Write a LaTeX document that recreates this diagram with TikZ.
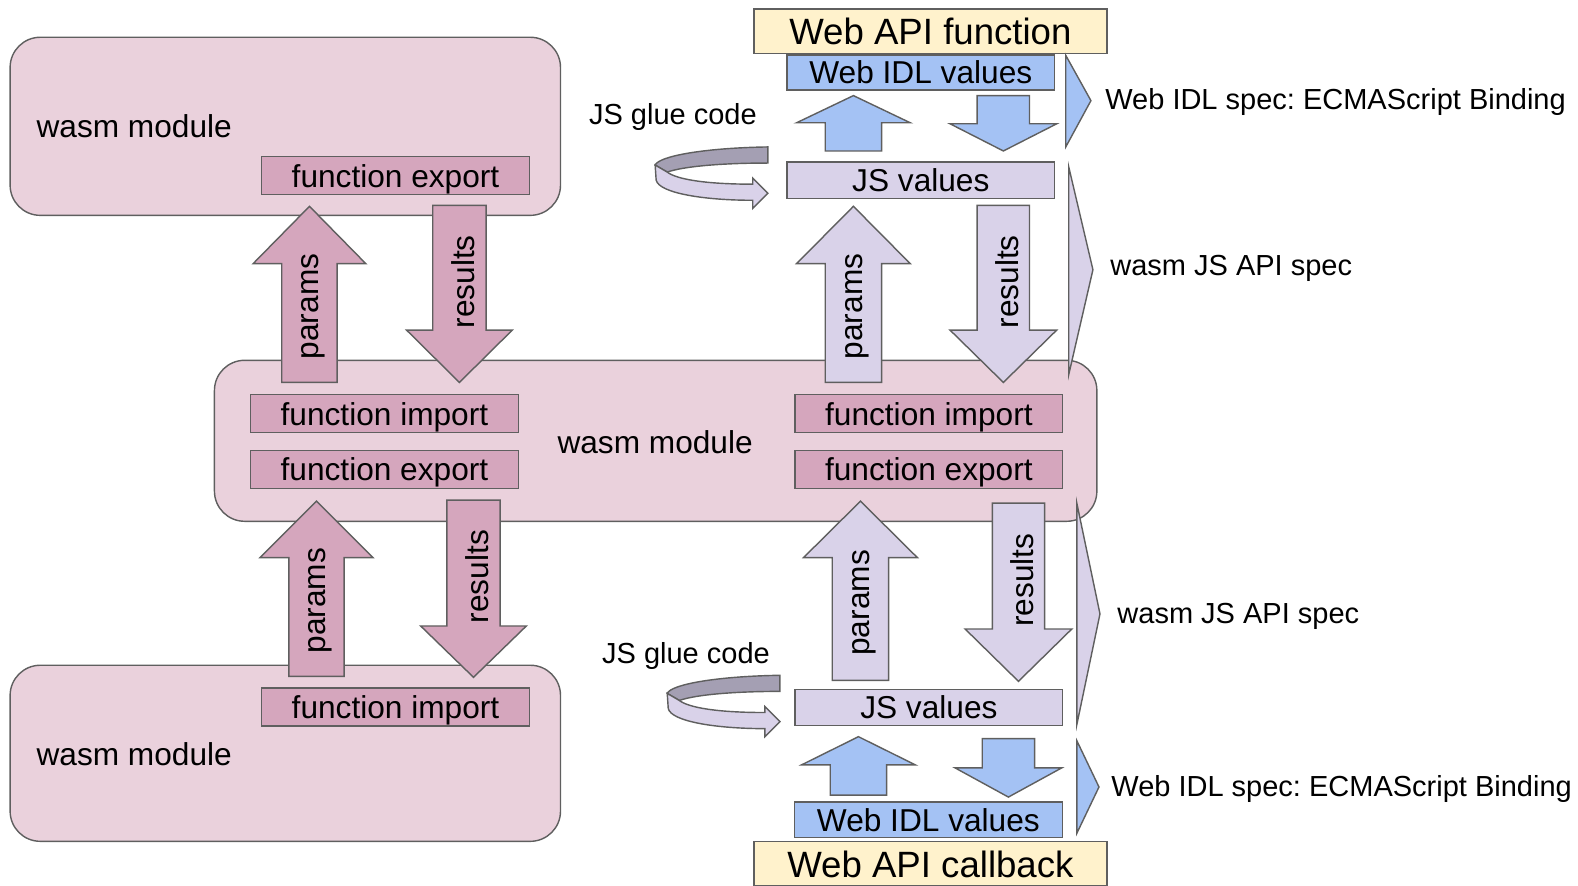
\documentclass[tikz,border=0pt]{standalone}
\usepackage{fontspec}
\setmainfont{Liberation Sans}

\definecolor{modpink}{HTML}{EAD1DC}
\definecolor{fnpink}{HTML}{D5A6BD}
\definecolor{jslav}{HTML}{D9D2E9}
\definecolor{idlblue}{HTML}{A4C2F4}
\definecolor{apiyellow}{HTML}{FFF2CC}
\definecolor{glueback}{HTML}{A49FB3}
\definecolor{edgegray}{HTML}{5F5F5F}

\newcommand{\bodysize}{\fontsize{17.9}{21}\selectfont}
\newcommand{\notesize}{\fontsize{16.4}{19}\selectfont}
\newcommand{\titlesize}{\fontsize{20.7}{24}\selectfont}

\tikzset{
  % fixed text boxes, so every label keeps the same baseline
  bodytext/.style={font=\bodysize, text height=16pt, text depth=3pt},
  notetext/.style={font=\notesize, text height=15pt, text depth=3pt},
  titletext/.style={font=\titlesize, text height=18.5pt, text depth=3pt},
  modbox/.style={draw=edgegray, fill=modpink, line width=0.8pt, rounded corners=0.6cm, inner sep=0pt},
  valbox/.style={draw=edgegray, line width=0.8pt, inner sep=0pt, minimum width=5.32cm, bodytext},
  fnbox/.style={valbox, fill=fnpink, minimum height=0.76cm},
  jsbox/.style={valbox, fill=jslav, minimum height=0.72cm},
  idlbox/.style={valbox, fill=idlblue, minimum height=0.7cm},
  apibox/.style={valbox, fill=apiyellow, minimum width=7.02cm, minimum height=0.88cm, titletext},
  flowarrow/.style={draw=edgegray, line width=0.8pt, line join=miter},
  flowtext/.style={xshift=2.2pt, rotate=90, inner sep=0pt, font=\bodysize},
  plain/.style={inner sep=0pt, anchor=west, bodytext},
  note/.style={inner sep=0pt, anchor=west, notetext}
}

\begin{document}
\begin{tikzpicture}[x=0.02cm, y=-0.02cm]
    \useasboundingbox (0,0) rectangle (1568,880);

    % The three wasm modules
    \node[modbox, minimum width=10.94cm, minimum height=3.54cm] (modtop) at (283.5,125.5) {};
    \node[modbox, minimum width=17.54cm, minimum height=3.2cm] (modmid) at (651.5,438) {};
    \node[modbox, minimum width=10.94cm, minimum height=3.5cm] (modbot) at (283.5,748.5) {};
    \node[plain] (modtoplabel) at (36,125) {wasm module};
    \node[bodytext, inner sep=0pt] (modmidlabel) at (651,439) {wasm module};
    \node[plain] (modbotlabel) at (36,749) {wasm module};

    % Big params / results arrows
    % centre x / tail y / tip y / shaft half / head half / head length / colour / text
    \foreach \cx/\tl/\tp/\w/\h/\hl/\col/\txt [count=\i] in {
        307.5/380/205/27.5/56/57/fnpink/params,
        456.5/204/380/26.5/52.5/52/fnpink/results,
        314.5/672/498/27.5/56/56/fnpink/params,
        470.5/497/673/26.5/52.5/51/fnpink/results,
        848/380/205/28/56.5/57/jslav/params,
        997/204/380/26/53/52/jslav/results,
        855/676/498/28/56.5/56/jslav/params,
        1012/500/677/26/53/52/jslav/results} {
        \pgfmathsetmacro{\yb}{\tp+\hl*sign(\tl-\tp)}
        \pgfmathsetmacro{\ym}{(\tl+\tp)/2+12*sign(\tl-\tp)}
        \draw[flowarrow, fill=\col] (\cx-\w,\tl) -- (\cx-\w,\yb) -- (\cx-\h,\yb) -- (\cx,\tp)
            -- (\cx+\h,\yb) -- (\cx+\w,\yb) -- (\cx+\w,\tl) -- cycle;
        \node[flowtext] (flow\i) at (\cx,\ym) {\txt};
    }

    % Small Web IDL <-> JS arrows
    \foreach \cx/\tl/\tp/\w/\h/\hl in {
        848/150/95/28/56.5/27,
        997/95/150/26/53/27,
        853/790/732/28/56.5/28,
        1002/734/792/26/53/29} {
        \pgfmathsetmacro{\yb}{\tp+\hl*sign(\tl-\tp)}
        \draw[flowarrow, fill=idlblue] (\cx-\w,\tl) -- (\cx-\w,\yb) -- (\cx-\h,\yb) -- (\cx,\tp)
            -- (\cx+\h,\yb) -- (\cx+\w,\yb) -- (\cx+\w,\tl) -- cycle;
    }

    % Function boxes
    \node[fnbox] (exptop) at (393,174.5) {function export};
    \node[fnbox] (impleft) at (382,411) {function import};
    \node[fnbox] (expleft) at (382,466.5) {function export};
    \node[fnbox] (impright) at (923,411) {function import};
    \node[fnbox] (expright) at (923,466.5) {function export};
    \node[fnbox] (impbot) at (393,702.5) {function import};

    % Web API side, top and bottom
    \node[apibox] (apifunc) at (924.5,31) {Web API function};
    \node[idlbox] (idltop) at (915,72) {Web IDL values};
    \node[jsbox] (jstop) at (915,179) {JS values};
    \node[jsbox] (jsbot) at (923,703) {JS values};
    \node[idlbox] (idlbot) at (922.5,814.5) {Web IDL values};
    \node[apibox] (apicb) at (924.5,858) {Web API callback};

    % JS glue code ribbons
    \foreach \dx/\dy in {0/0, 12/525} {
        \begin{scope}[shift={(\dx,\dy)}]
            \draw[flowarrow, fill=glueback] (763,146) .. controls (700,147) and (655,155) .. (651,164)
                -- (663,171) .. controls (680,165) and (720,162) .. (763,162) -- cycle;
            \draw[flowarrow, fill=jslav] (651,164) -- (652,179) .. controls (655,192) and (700,199) .. (748,199)
                -- (748,207) -- (763,192) -- (748,177) -- (748,183)
                .. controls (700,183) and (672,178) .. (663,171) -- cycle;
        \end{scope}
    }
    \node[note] (gluetop) at (585,113) {JS glue code};
    \node[note] (gluebot) at (598,649) {JS glue code};

    % Spec brackets on the right
    \draw[flowarrow, fill=idlblue] (1059,55) -- (1084,100) -- (1059,146) -- cycle;
    \draw[flowarrow, fill=jslav] (1062,166) -- (1086,268) -- (1062,372) -- cycle;
    \draw[flowarrow, fill=jslav] (1070,500) -- (1093,610) -- (1070,720) -- cycle;
    \draw[flowarrow, fill=idlblue] (1070,736) -- (1092,782) -- (1070,828) -- cycle;
    \node[note] (spectop) at (1098,98) {Web IDL spec:\ ECMAScript Binding};
    \node[note] (jsapitop) at (1103,263) {wasm JS API spec};
    \node[note] (jsapibot) at (1110,609) {wasm JS API spec};
    \node[note] (specbot) at (1104,781) {Web IDL spec:\ ECMAScript Binding};
\end{tikzpicture}
\end{document}
